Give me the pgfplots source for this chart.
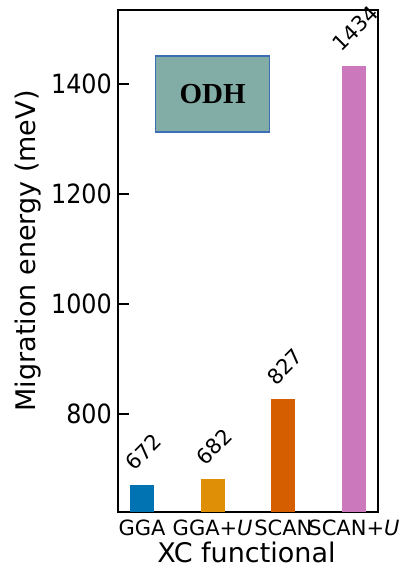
\documentclass[border=0pt]{standalone}
\usepackage{pgfplots}
\pgfplotsset{compat=1.18}
\usepackage{fontspec}
\setmainfont{DejaVu Sans}
\newfontfamily\numfont{DejaVu Sans}[FakeStretch=0.9]
\newfontfamily\boxfont{Liberation Serif}

\definecolor{cGGA}{HTML}{0173B2}
\definecolor{cGGAU}{HTML}{DE8F05}
\definecolor{cSCAN}{HTML}{D55E00}
\definecolor{cSCANU}{HTML}{CC78BC}
\definecolor{boxfill}{HTML}{82ADA6}
\definecolor{boxedge}{HTML}{3D6DB3}

\begin{document}
\begin{tikzpicture}[x=1pt,y=1pt]
\path[use as bounding box] (-118,-62) rectangle (282,512);
\begin{axis}[
  at={(0,0)}, anchor=south west,
  scale only axis, width=260pt, height=502pt,
  xmin=-0.34, xmax=3.34, ymin=622, ymax=1535,
  ybar, bar width=24pt, bar shift=0pt,
  xtick={0,1,2,3},
  xticklabels={GGA, GGA+\textit{U}, SCAN, SCAN+\textit{U}},
  ytick={800,1000,1200,1400},
  /pgf/number format/assume math mode=true,
  /pgf/number format/1000 sep={},
  axis line style={line width=1.5pt, black},
  tick align=inside,
  ytick pos=left,
  xtick style={draw=none},
  ytick style={line width=1.5pt, black},
  major tick length=11pt,
  xticklabel style={font=\fontsize{21}{24}\selectfont, inner sep=0pt, anchor=north, yshift=-8pt},
  yticklabel style={font=\numfont\fontsize{26.5}{30}\selectfont, inner sep=0pt, anchor=east, xshift=-6pt},
  xlabel={XC functional},
  ylabel={Migration energy (meV)},
  every axis x label/.style={at={(axis description cs:0.494,-0.081)}, anchor=center, font=\fontsize{27}{30}\selectfont},
  every axis y label/.style={at={(axis description cs:-0.346,0.52)}, anchor=center, rotate=90, font=\fontsize{27}{30}\selectfont},
  nodes near coords,
  visualization depends on={rawy \as \rawy},
  every node near coord/.append style={font=\fontsize{21}{24}\selectfont, text=black, inner sep=0pt, anchor=center,
    xshift=1.5pt, yshift={32.5pt+4.5pt*(\rawy>999)}, rotate=45},
]
\addplot[fill=cGGA, draw=none] coordinates {(0,672)};
\addplot[fill=cGGAU, draw=none] coordinates {(1,682)};
\addplot[fill=cSCAN, draw=none] coordinates {(2,827)};
\addplot[fill=cSCANU, draw=none] coordinates {(3,1434)};
\node[draw=boxedge, line width=1.5pt, fill=boxfill, minimum width=114pt, minimum height=76pt,
  inner sep=0pt, font=\boxfont\bfseries\fontsize{29}{32}\selectfont] at (axis cs:1.0,1382) {ODH};
\end{axis}
\end{tikzpicture}
\end{document}
